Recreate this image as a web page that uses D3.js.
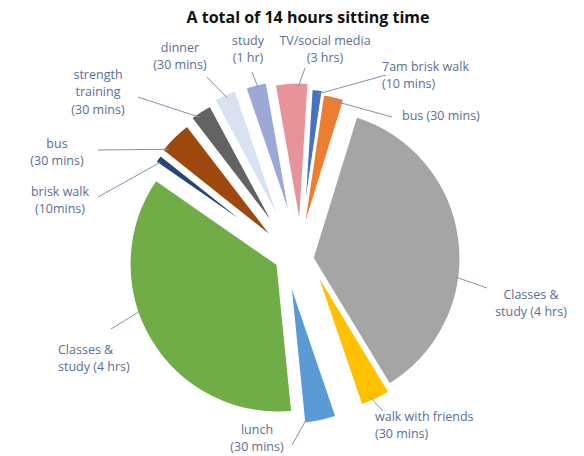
<!DOCTYPE html>
<html>
<head>
<meta charset="utf-8">
<script src="https://cdn.jsdelivr.net/npm/d3@7"></script>
<style>
  html, body { margin: 0; padding: 0; background: #ffffff; }
  svg { display: block; }
  text { font-family: "Open Sans", "Noto Sans", sans-serif; }
</style>
</head>
<body>
<svg id="chart" width="584" height="456"></svg>
<script>
// Activities of the day, in the order the slices run clockwise
const activities = [
  "7am brisk walk", "bus", "Classes & study", "walk with friends", "lunch",
  "Classes & study", "brisk walk", "bus", "strength training", "dinner",
  "study", "TV/social media"
];
// Share of the pie taken by each slice (percent)
const share = [1.36, 2.44, 36.56, 3.44, 3.64, 36.25, 1.03, 3.89, 2.56, 2.61, 2.47, 3.75];
// Data label text, line by line
const labelLines = [
  ["7am brisk walk", "(10 mins)"],
  ["bus (30 mins)"],
  ["Classes &", "study (4 hrs)"],
  ["walk with friends", "(30 mins)"],
  ["lunch", "(30 mins)"],
  ["Classes &", "study (4 hrs)"],
  ["brisk walk", "(10mins)"],
  ["bus", "(30 mins)"],
  ["strength", "training", "(30 mins)"],
  ["dinner", "(30 mins)"],
  ["study", "(1 hr)"],
  ["TV/social media", "(3 hrs)"]
];
const chartTitle = "A total of 14 hours sitting time";

// ---- styling and layout ----
const colors = ["#4472C4", "#ED7D31", "#A5A5A5", "#FFC000", "#5B9BD5", "#70AD47",
                "#264478", "#9E480E", "#636363", "#DAE2F2", "#9CA8D5", "#E8939A"];
const pieCenter = [290, 250];
const radius = 149;
const startDeg = 3.5;
// how far each slice is pulled out of the pie (dx, dy)
const explode = [[12, -13], [11, -9], [22, 8], [23, 15], [-1, 26], [-12, 14],
                 [-13, -3], [-12, -7], [-9, -14], [-6, -19.5], [3, -21.5], [10, -19]];
// label placement: text position/anchor, leader end point, and where along the slice the leader starts
const labelLayout = [
  { x: 382, y: 71,  anchor: "start",  end: [386, 75],  f: 0.6 },
  { x: 402, y: 120, anchor: "start",  end: [392, 117], f: 0.45 },
  { x: 531, y: 299, anchor: "middle", end: [487, 288], f: 0.61 },
  { x: 375, y: 421, anchor: "start",  end: [383, 411], f: 0.64 },
  { x: 257, y: 434, anchor: "middle", end: [292, 445], f: 0.9 },
  { x: 58,  y: 354, anchor: "start",  end: [111, 329], f: 0.59 },
  { x: 60,  y: 196, anchor: "middle", end: [98, 197],  f: 0.35 },
  { x: 57,  y: 148, anchor: "middle", end: [98, 150],  f: 0.15 },
  { x: 98,  y: 79,  anchor: "middle", end: [138, 97],  f: 0.33 },
  { x: 180, y: 52,  anchor: "middle", end: [207, 77],  f: 0.55 },
  { x: 248, y: 45,  anchor: "middle", end: [252, 72],  f: 0.57 },
  { x: 325, y: 45,  anchor: "middle", end: [305, 68],  f: 0.69 }
];
const lineGap = 17.4;
const labelColor = "#5B6E95";
const leaderColor = "#8393B0";

const svg = d3.select("#chart");

svg.append("text")
  .attr("x", 308)
  .attr("y", 23)
  .attr("text-anchor", "middle")
  .attr("font-size", 16)
  .attr("font-weight", 700)
  .attr("fill", "#111")
  .text(chartTitle);

const start = startDeg * Math.PI / 180;
const pie = d3.pie().sort(null).value(d => d)
  .startAngle(start).endAngle(start + 2 * Math.PI);
const arcs = pie(share);
const arc = d3.arc().innerRadius(0).outerRadius(radius);

const origin = i => [pieCenter[0] + explode[i][0], pieCenter[1] + explode[i][1]];

svg.append("g").selectAll("path")
  .data(arcs)
  .join("path")
  .attr("transform", (d, i) => `translate(${origin(i)[0]},${origin(i)[1]})`)
  .attr("d", arc)
  .attr("fill", (d, i) => colors[i])
  .attr("stroke", "#fff")
  .attr("stroke-width", 3.2)
  .attr("stroke-linejoin", "round")
  .append("title").text((d, i) => activities[i]);

// leader lines from the slice edge to the label
svg.append("g").selectAll("line")
  .data(arcs)
  .join("line")
  .each(function (d, i) {
    const L = labelLayout[i];
    const a = d.startAngle + L.f * (d.endAngle - d.startAngle);
    const [ox, oy] = origin(i);
    const r = radius - 5;
    d3.select(this)
      .attr("x1", ox + r * Math.sin(a))
      .attr("y1", oy - r * Math.cos(a))
      .attr("x2", L.end[0])
      .attr("y2", L.end[1]);
  })
  .attr("stroke", leaderColor)
  .attr("stroke-width", 1);

// data labels
const labels = svg.append("g").selectAll("text")
  .data(arcs)
  .join("text")
  .attr("x", (d, i) => labelLayout[i].x)
  .attr("y", (d, i) => labelLayout[i].y)
  .attr("text-anchor", (d, i) => labelLayout[i].anchor)
  .attr("font-size", 12.5)
  .attr("fill", labelColor);

labels.each(function (d, i) {
  d3.select(this).selectAll("tspan")
    .data(labelLines[i])
    .join("tspan")
    .attr("x", labelLayout[i].x)
    .attr("dy", (t, k) => k === 0 ? 0 : lineGap)
    .text(t => t);
});
</script>
</body>
</html>
